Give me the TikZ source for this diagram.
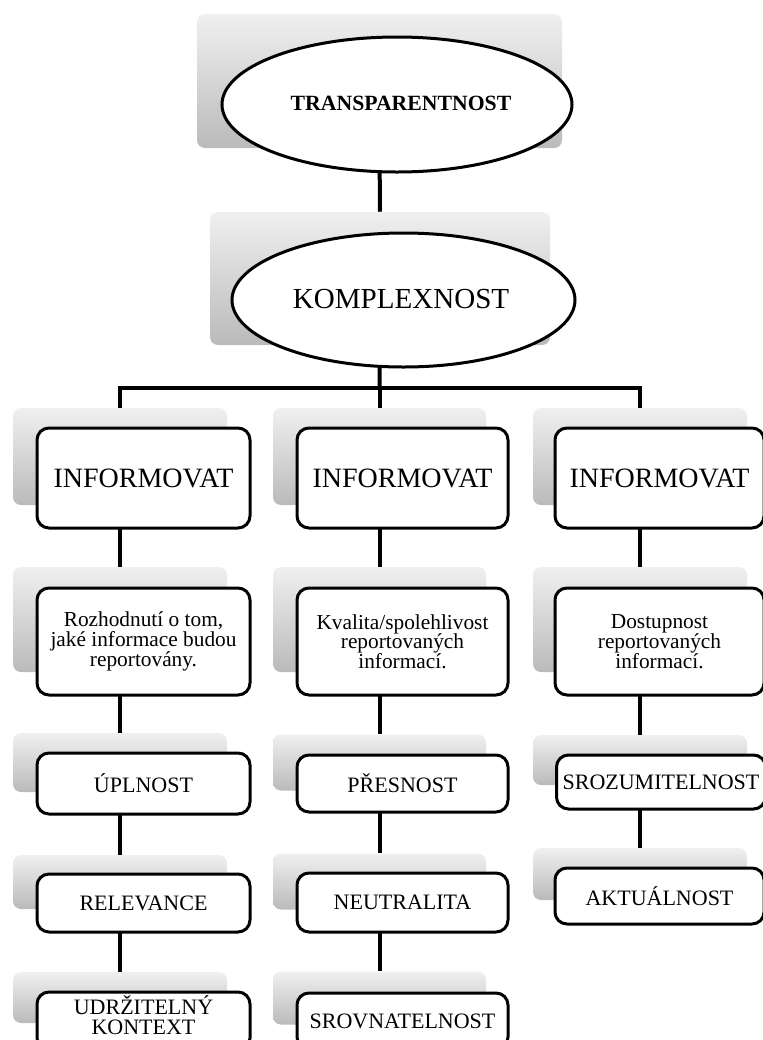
\documentclass[tikz,border=0pt]{standalone}
\usepackage{fontspec}
\setmainfont{Liberation Serif}
\usetikzlibrary{shapes.geometric}
\tikzset{
 sz/.style 2 args={minimum width=#1*0.75pt, minimum height=#2*0.75pt},
 gbox/.style={rounded corners=6pt, top color=black!6, bottom color=black!27, draw=none, inner sep=0pt},
 wbox/.style={rounded corners=9pt, draw=black, line width=2.25pt, fill=white, inner sep=0pt, align=center},
 ell/.style={ellipse, draw=black, line width=2.25pt, fill=white, inner sep=0pt, align=center},
 conn/.style={line width=3pt},
 big/.style={font=\fontsize{21}{23}\selectfont},
 mid/.style={font=\fontsize{16.5}{15}\selectfont},
 desc/.style={font=\fontsize{16}{14.8}\selectfont},
 lbl/.style={inner sep=0pt, align=center}
}
\begin{document}
\begin{tikzpicture}[x=0.75pt,y=-0.75pt]
\useasboundingbox (0,0) rectangle (763,1040);
\clip (0,0) rectangle (763,1040);

% gray backgrounds
\node[gbox, sz={365}{134}] (tg) at (379.5,81) {};
\node[gbox, sz={340}{133}] (kg) at (380,278.5) {};
\node[gbox, sz={214}{97}] (g11) at (120,456.5) {};
\node[gbox, sz={213}{97}] (g21) at (379.5,456.5) {};
\node[gbox, sz={214}{97}] (g31) at (640,456.5) {};
\node[gbox, sz={214}{105}] (g12) at (120,619.5) {};
\node[gbox, sz={213}{105}] (g22) at (379.5,619.5) {};
\node[gbox, sz={214}{105}] (g32) at (640,619.5) {};
\node[gbox, sz={214}{59}] (g13) at (120,762.5) {};
\node[gbox, sz={213}{56}] (g23) at (379.5,762.5) {};
\node[gbox, sz={214}{50}] (g33) at (640,760) {};
\node[gbox, sz={214}{54}] (g14) at (120,882) {};
\node[gbox, sz={213}{56}] (g24) at (379.5,881.5) {};
\node[gbox, sz={214}{52}] (g34) at (640,874) {};
\node[gbox, sz={214}{51}] (g15) at (120,997.5) {};
\node[gbox, sz={213}{53}] (g25) at (379.5,998) {};

% connectors
\coordinate (bar) at (379.5,388);
\draw[conn] (tg.south) -- (kg.north);
\draw[conn] (kg.south) -- (bar);
\draw[conn] (g11.north) |- (bar) -| (g31.north);
\draw[conn] (bar) -- (g21.north);
\draw[conn] (g11.south) -- (g12.north);
\draw[conn] (g12.south) -- (g13.north);
\draw[conn] (g13.south) -- (g14.north);
\draw[conn] (g14.south) -- (g15.north);
\draw[conn] (g21.south) -- (g22.north);
\draw[conn] (g22.south) -- (g23.north);
\draw[conn] (g23.south) -- (g24.north);
\draw[conn] (g24.south) -- (g25.north);
\draw[conn] (g31.south) -- (g32.north);
\draw[conn] (g32.south) -- (g33.north);
\draw[conn] (g33.south) -- (g34.north);

% ellipses
\node[ell, sz={350}{135}] (te) at (397,104.5) {};
\node[lbl, font=\fontsize{16.3}{17}\selectfont\bfseries] (tt) at (401,103) {TRANSPARENTNOST};
\node[ell, sz={343}{134}] (ke) at (403.5,300) {};
\node[lbl, font=\fontsize{21.8}{23}\selectfont] (kt) at (401,299) {KOMPLEXNOST};

% white boxes
\node[wbox, big, sz={213}{100}] (w11) at (143.5,478) {INFORMOVAT};
\node[wbox, big, sz={211}{100}] (w21) at (402.5,478) {INFORMOVAT};
\node[wbox, big, sz={209}{100}] (w31) at (659.5,478) {INFORMOVAT};
\node[wbox, desc, sz={213}{107}] (w12) at (143.5,641.5) {Rozhodnutí o tom,\\jaké informace budou\\reportovány.};
\node[wbox, desc, sz={211}{107}] (w22) at (402.5,641.5) {Kvalita/spolehlivost\\reportovaných\\informací.};
\node[wbox, desc, sz={209}{107}] (w32) at (659.5,641.5) {Dostupnost\\reportovaných\\informací.};
\node[wbox, mid, sz={213}{61}] (w13) at (143.5,783.5) {ÚPLNOST};
\node[wbox, mid, sz={211}{57}] (w23) at (402.5,783.5) {PŘESNOST};
\node[wbox, mid, sz={209}{54}] (w33) at (661,782) {SROZUMITELNOST};
\node[wbox, mid, sz={213}{58}] (w14) at (143.5,903) {RELEVANCE};
\node[wbox, mid, sz={211}{59}] (w24) at (402.5,902.5) {NEUTRALITA};
\node[wbox, mid, sz={209}{56}] (w34) at (659.5,896) {AKTUÁLNOST};
\node[wbox, sz={213}{58}] (w15) at (143.5,1021) {};
\node[lbl, mid] (t15) at (143.5,1015) {UDRŽITELNÝ\\KONTEXT};
\node[wbox, mid, sz={211}{56}] (w25) at (402.5,1021) {SROVNATELNOST};
\end{tikzpicture}
\end{document}
